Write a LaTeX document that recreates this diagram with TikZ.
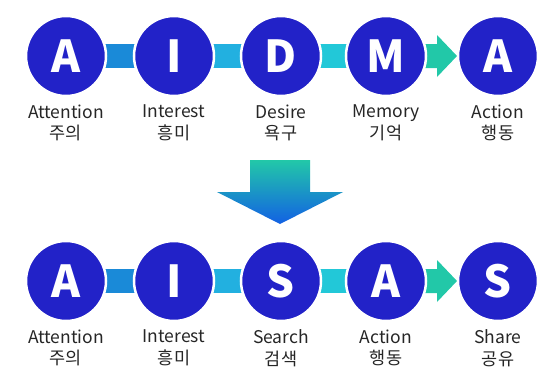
\documentclass[tikz,border=0pt]{standalone}
\usepackage{fontspec}
\setmainfont{Noto Sans CJK KR}
\newfontfamily\krfont{Noto Sans CJK KR}
\begin{document}
\begin{tikzpicture}[x=1pt,y=-1pt,
  circ/.style={circle,fill=cblue,draw=white,line width=2.5pt,minimum size=80pt,inner sep=0pt,
    text=white,font=\krfont\fontsize{44}{44}\selectfont\bfseries},
  lbl/.style={align=center,font=\krfont\fontsize{17.5}{21.5}\selectfont,text=black!85}]
\definecolor{cblue}{HTML}{2222C8}
\definecolor{conA}{HTML}{1A8AD8}
\definecolor{conB}{HTML}{22B0E0}
\definecolor{conC}{HTML}{22C8D8}
\definecolor{conD}{HTML}{22C8A8}
\useasboundingbox (0,0) rectangle (550,386);
\fill[white] (0,0) rectangle (550,386);

\foreach \row/\yc/\yl/\pre in {0/56/122/t,1/281/347/b}{
  % connectors
  \fill[conA] (100,\yc-12) rectangle (140,\yc+12);
  \fill[conB] (208,\yc-12) rectangle (247,\yc+12);
  \fill[conC] (314,\yc-12) rectangle (353,\yc+12);
  \fill[conD] (420,\yc-12) -- (437,\yc-12) -- (437,\yc-21) -- (457,\yc) -- (437,\yc+21) -- (437,\yc+12) -- (420,\yc+12) -- cycle;
}

\node[circ] (t1) at (66,56) {A};
\node[circ] (t2) at (174,56) {I};
\node[circ] (t3) at (281,56) {D};
\node[circ] (t4) at (386,56) {M};
\node[circ] (t5) at (498,56) {A};

\node[lbl] (lt1) at (66,123) {Attention\\주의};
\node[lbl] (lt2) at (174,123) {Interest\\흥미};
\node[lbl] (lt3) at (281,123) {Desire\\욕구};
\node[lbl] (lt4) at (386,123) {Memory\\기억};
\node[lbl] (lt5) at (498,123) {Action\\행동};

\node[circ] (b1) at (66,281) {A};
\node[circ] (b2) at (174,281) {I};
\node[circ] (b3) at (281,281) {S};
\node[circ] (b4) at (386,281) {A};
\node[circ] (b5) at (498,281) {S};

\node[lbl] (lb1) at (66,348) {Attention\\주의};
\node[lbl] (lb2) at (174,348) {Interest\\흥미};
\node[lbl] (lb3) at (281,348) {Search\\검색};
\node[lbl] (lb4) at (386,348) {Action\\행동};
\node[lbl] (lb5) at (498,348) {Share\\공유};

% down arrow
\shade[top color=conD, middle color=conB, bottom color=conA!70!blue]
  (250,160) -- (310,160) -- (310,192) -- (343,192) -- (280,224) -- (217,192) -- (250,192) -- cycle;
\end{tikzpicture}
\end{document}
